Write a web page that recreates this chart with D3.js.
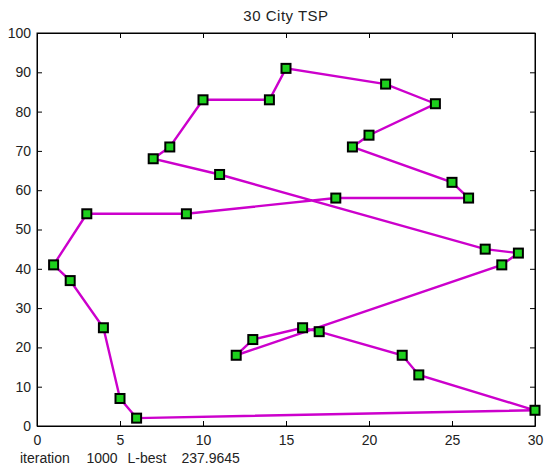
<!DOCTYPE html>
<html>
<head>
<meta charset="utf-8">
<script src="https://cdn.jsdelivr.net/npm/d3@7"></script>
<style>
body { margin: 0; background: #fff; }
text { font-family: "Liberation Sans", Arial, sans-serif; fill: #222; }
</style>
</head>
<body>
<svg id="svg"></svg>
<script>
// tour order of the 30 cities (closed loop)
var cityX = [1, 2, 4, 5, 6, 30, 23, 22, 17, 16, 13, 12, 28, 29, 27,
             11, 7, 8, 10, 14, 15, 21, 24, 20, 19, 25, 26, 18, 9, 3];
var cityY = [41, 37, 25, 7, 2, 4, 13, 18, 24, 25, 22, 18, 41, 44, 45,
             64, 68, 71, 83, 83, 91, 87, 82, 74, 71, 62, 58, 58, 54, 54];
var xTicks = [0, 5, 10, 15, 20, 25, 30];
var yTicks = [0, 10, 20, 30, 40, 50, 60, 70, 80, 90, 100];
var titleText = "30 City TSP";
var iterCount = 1000;
var bestLen = 237.9645;

var width = 544, height = 470;
var margin = {left: 37, right: 9, top: 33, bottom: 44};

var svg = d3.select("#svg").attr("width", width).attr("height", height);

var x = d3.scaleLinear().domain([0, 30]).range([margin.left, width - margin.right]);
var y = d3.scaleLinear().domain([0, 100]).range([height - margin.bottom, margin.top]);

var tickLen = 5;

// left / bottom axes with inward ticks
svg.append("g")
    .attr("transform", "translate(0," + y(0) + ")")
    .call(d3.axisBottom(x).tickValues(xTicks).tickSizeInner(-tickLen).tickSizeOuter(0).tickPadding(9))
    .call(function(g) {
        g.selectAll("text").attr("font-size", 14);
    });

svg.append("g")
    .attr("transform", "translate(" + x(0) + ",0)")
    .call(d3.axisLeft(y).tickValues(yTicks).tickSizeInner(-tickLen).tickSizeOuter(0).tickPadding(6))
    .call(function(g) {
        g.selectAll("text").attr("font-size", 14);
    });

// top / right ticks (no labels)
svg.append("g")
    .attr("transform", "translate(0," + y(100) + ")")
    .call(d3.axisTop(x).tickValues(xTicks).tickSizeInner(-tickLen).tickSizeOuter(0).tickFormat(""));

svg.append("g")
    .attr("transform", "translate(" + x(30) + ",0)")
    .call(d3.axisRight(y).tickValues(yTicks).tickSizeInner(-tickLen).tickSizeOuter(0).tickFormat(""));

svg.selectAll(".domain").attr("stroke", "#000");
svg.selectAll(".tick line").attr("stroke", "#000");

// box
svg.append("rect")
    .attr("x", x(0)).attr("y", y(100))
    .attr("width", x(30) - x(0)).attr("height", y(0) - y(100))
    .attr("fill", "none").attr("stroke", "#000").attr("stroke-width", 1);

// route
var pts = cityX.map(function(d, i) { return [cityX[i], cityY[i]]; });
var loop = pts.concat([pts[0]]);

svg.append("path")
    .datum(loop)
    .attr("d", d3.line().x(function(d) { return x(d[0]); }).y(function(d) { return y(d[1]); }))
    .attr("fill", "none")
    .attr("stroke", "#cc00cc")
    .attr("stroke-width", 2.4);

var ms = 9;
svg.selectAll("rect.city")
    .data(pts)
    .enter()
    .append("rect")
    .attr("class", "city")
    .attr("x", function(d) { return x(d[0]) - ms / 2; })
    .attr("y", function(d) { return y(d[1]) - ms / 2; })
    .attr("width", ms)
    .attr("height", ms)
    .attr("fill", "#1dd01d")
    .attr("stroke", "#000")
    .attr("stroke-width", 2);

// title
svg.append("text")
    .attr("x", (x(0) + x(30)) / 2)
    .attr("y", 21)
    .attr("text-anchor", "middle")
    .attr("font-size", 15)
    .attr("letter-spacing", 0.5)
    .text(titleText);

// status line under the axis
var statusParts = [["iteration", 20], [String(iterCount), 86.5], ["L-best", 127.5], [String(bestLen), 181.5]];
svg.selectAll("text.status")
    .data(statusParts)
    .enter()
    .append("text")
    .attr("class", "status")
    .attr("x", function(d) { return d[1]; })
    .attr("y", 463)
    .attr("font-size", 14)
    .text(function(d) { return d[0]; });
</script>
</body>
</html>
